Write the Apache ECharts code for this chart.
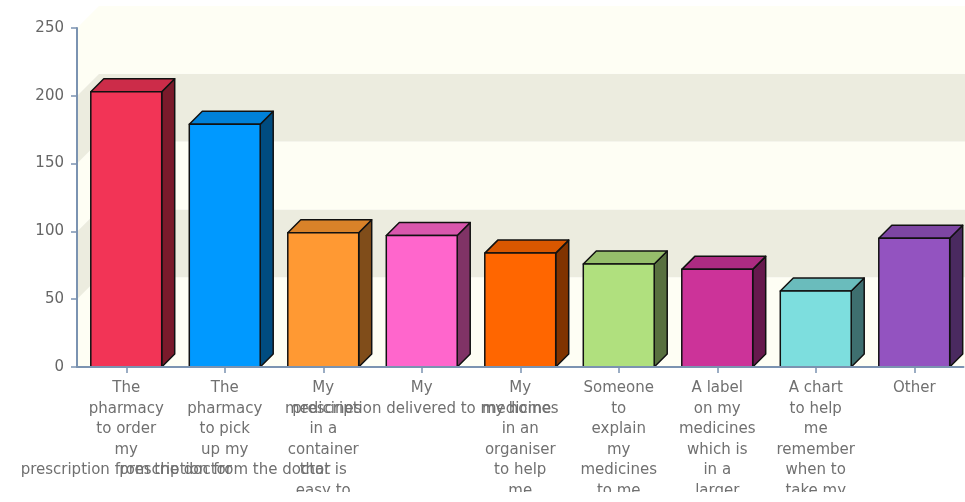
<!DOCTYPE html>
<html>
<head>
<meta charset="utf-8">
<script src="https://cdn.jsdelivr.net/npm/echarts@6/dist/echarts.min.js"></script>
<style>
  html, body { margin: 0; padding: 0; background: #ffffff; }
  #chart { width: 965px; height: 492px; }
</style>
</head>
<body>
<div id="chart"></div>
<script>
// Survey answers, one line per wrapped label row
const categories = [
  'The\npharmacy\nto order\nmy\nprescription from the doctor',
  'The\npharmacy\nto pick\nup my\nprescription from the doctor',
  'My\nmedicines\nin a\ncontainer\nthat is\neasy to',
  'My\nprescription delivered to my home',
  'My\nmedicines\nin an\norganiser\nto help\nme',
  'Someone\nto\nexplain\nmy\nmedicines\nto me',
  'A label\non my\nmedicines\nwhich is\nin a\nlarger',
  'A chart\nto help\nme\nremember\nwhen to\ntake my',
  'Other'
];
const responses = [203, 179, 99, 97, 84, 76, 72, 56, 95];

// Face colours of each 3D bar: front, top (lit) and side (shaded)
const frontColors = ['#f23456', '#0099ff', '#ff9933', '#ff66cc', '#ff6600', '#b0e07e', '#cc3399', '#7ddede', '#9353c0'];
const topColors   = ['#cc2c49', '#0081d9', '#d98229', '#d957ad', '#d95700', '#96be6b', '#ad2b82', '#6abcbc', '#7d46a3'];
const sideColors  = ['#7a1a2b', '#004c80', '#804d1a', '#803366', '#803300', '#58703f', '#66194d', '#3e6f6f', '#4a2a60'];

// Value axis ticks; consecutive pairs form the striped back-wall bands
const yTicks = [0, 50, 100, 150, 200, 250];
const bandColors = ['#fefef4', '#ececdf'];

const BAR_RATIO = 0.72;   // front face width as share of the category band
const BAR_DEPTH = 13;     // extrusion of each bar (px)
const WALL_DEPTH = 22;    // offset of the back wall (px)
const FONT = 'DejaVu Sans, Verdana, sans-serif';

const bands = [];
for (let k = 0; k < yTicks.length - 1; k++) bands.push([0, yTicks[k], yTicks[k + 1]]);

function renderWall(params, api) {
  const cs = params.coordSys;
  const lo = api.value(1), hi = api.value(2);
  const yLo = api.coord([0, lo])[1];
  const yHi = api.coord([0, hi])[1];
  const d = WALL_DEPTH;
  const x0 = cs.x, x1 = cs.x + cs.width + 2;
  const yBottom = lo === 0 ? yLo : yLo - d;
  const fill = bandColors[params.dataIndex % 2];
  return {
    type: 'group',
    silent: true,
    children: [
      { type: 'polygon', shape: { points: [[x0, yHi], [x0 + d, yHi - d], [x0 + d, yBottom], [x0, yLo]] }, style: { fill: fill } },
      { type: 'rect', shape: { x: x0 + d, y: yHi - d, width: x1 - x0 - d, height: yBottom - (yHi - d) }, style: { fill: fill } }
    ]
  };
}

function renderBar(params, api) {
  const i = api.value(0), v = api.value(1);
  const base = api.coord([i, 0]);
  const top = api.coord([i, v]);
  const w = api.size([1, 0])[0] * BAR_RATIO;
  const xl = base[0] - w / 2, xr = base[0] + w / 2;
  const yt = top[1], yb = base[1];
  const d = BAR_DEPTH;
  const edge = { stroke: '#111111', lineWidth: 1.5, lineJoin: 'round' };
  return {
    type: 'group',
    children: [
      { type: 'polygon', shape: { points: [[xr, yt], [xr + d, yt - d], [xr + d, yb - d], [xr, yb]] },
        style: Object.assign({ fill: sideColors[i] }, edge) },
      { type: 'polygon', shape: { points: [[xl, yt], [xl + d, yt - d], [xr + d, yt - d], [xr, yt]] },
        style: Object.assign({ fill: topColors[i] }, edge) },
      { type: 'rect', shape: { x: xl, y: yt, width: w, height: yb - yt },
        style: Object.assign({ fill: frontColors[i] }, edge) }
    ]
  };
}

const chart = echarts.init(document.getElementById('chart'), null, { renderer: 'canvas' });
chart.setOption({
  animation: false,
  backgroundColor: '#ffffff',
  grid: { left: 77, top: 28, width: 886.5, height: 339, containLabel: false, outerBoundsMode: 'none' },
  xAxis: {
    type: 'category',
    data: categories,
    boundaryGap: true,
    z: 10,
    axisLine: { show: true, lineStyle: { color: '#7b93b1', width: 2 } },
    axisTick: { show: true, alignWithLabel: true, length: 6, lineStyle: { color: '#7b93b1', width: 1.5 } },
    axisLabel: {
      interval: 0, hideOverlap: false, margin: 11,
      color: '#707070', fontSize: 15, lineHeight: 20.5, fontFamily: FONT, align: 'center'
    },
    splitLine: { show: false }
  },
  yAxis: {
    type: 'value',
    min: yTicks[0], max: yTicks[yTicks.length - 1], interval: 50,
    z: 10,
    axisLine: { show: true, lineStyle: { color: '#7b93b1', width: 2 } },
    axisTick: { show: true, length: 6, lineStyle: { color: '#7b93b1', width: 1.5 } },
    axisLabel: { margin: 13, color: '#666666', fontSize: 15, fontFamily: FONT },
    splitLine: { show: false }
  },
  series: [
    {
      type: 'custom',
      name: 'wall',
      renderItem: renderWall,
      data: bands,
      encode: { x: 0, y: [1, 2] },
      z: 1,
      silent: true,
      clip: false
    },
    {
      type: 'custom',
      name: 'Responses',
      renderItem: renderBar,
      data: responses.map((v, i) => [i, v]),
      encode: { x: 0, y: 1 },
      z: 3,
      clip: false
    }
  ]
});
</script>
</body>
</html>
